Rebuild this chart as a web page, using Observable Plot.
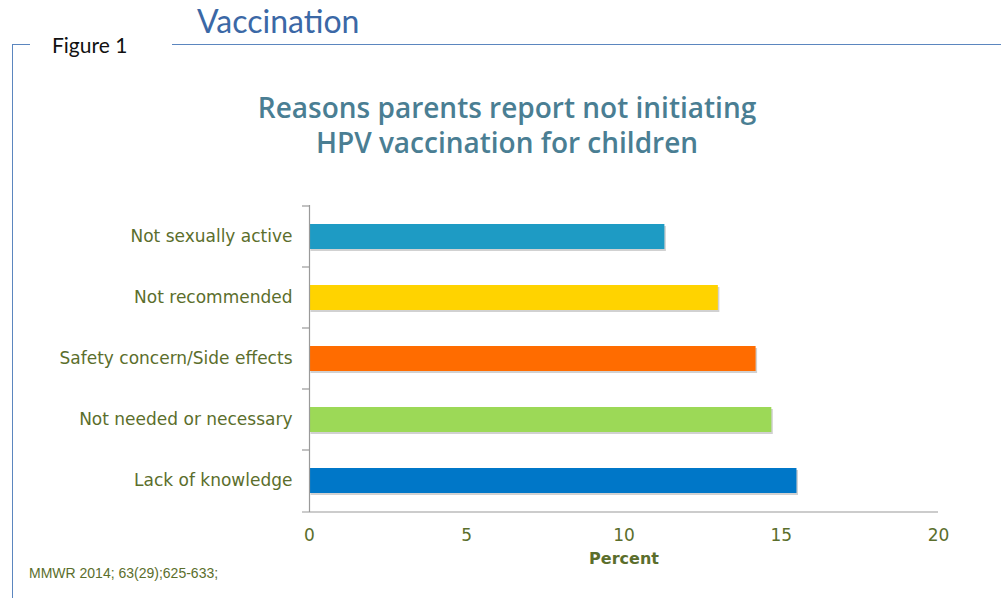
<!DOCTYPE html>
<html>
<head>
<meta charset="utf-8">
<script src="https://cdn.jsdelivr.net/npm/d3@7"></script>
<script src="https://cdn.jsdelivr.net/npm/@observablehq/plot@0.6"></script>
<style>
  html, body { margin: 0; padding: 0; background: #fff; }
  #page { position: relative; width: 1001px; height: 598px; overflow: hidden; background: #fff; }
  .abs { position: absolute; white-space: nowrap; }
  #vacc { left: 197px; top: 1px; font-family: Lato, sans-serif; font-size: 32px; color: #3b68a6; }
  #fig { left: 52px; top: 32px; font-family: Lato, sans-serif; font-size: 21px; color: #111; }
  #hline { left: 172px; top: 44px; width: 829px; height: 0; border-top: 1.5px solid #5b86bf; }
  #lshort { left: 12px; top: 44px; width: 18px; height: 0; border-top: 1.5px solid #5b86bf; }
  #vline { left: 12px; top: 44px; width: 0; height: 560px; border-left: 1.5px solid #5b86bf; }
  #title { left: 0; width: 1014px; top: 90px; text-align: center; font-family: "Open Sans", sans-serif; font-weight: 600; font-size: 28px; line-height: 35px; color: #4a7e93; }
  #cap { left: 29px; top: 565px; font-family: "Liberation Sans", Arial, sans-serif; font-size: 14px; color: #5b6e2c; }
  #chart { left: 0; top: 180px; }
</style>
</head>
<body>
<div id="page">
  <div class="abs" id="vacc">Vaccination</div>
  <div class="abs" id="fig">Figure 1</div>
  <div class="abs" id="hline"></div>
  <div class="abs" id="lshort"></div>
  <div class="abs" id="vline"></div>
  <div class="abs" id="title">Reasons parents report not initiating<br>HPV vaccination for children</div>
  <div class="abs" id="chart"></div>
  <div class="abs" id="cap">MMWR 2014; 63(29);625-633;</div>
</div>
<script>
const reasons = ["Not sexually active", "Not recommended", "Safety concern/Side effects", "Not needed or necessary", "Lack of knowledge"];
const percents = [11.3, 13.0, 14.2, 14.7, 15.5];
const barColors = ["#1e9bc4", "#ffd300", "#ff6c00", "#9cd957", "#0077c8"];
const xTicks = [0, 5, 10, 15, 20];
const xLabel = "Percent";

const data = reasons.map((r, i) => ({reason: r, value: percents[i]}));
const olive = "#5b6e2c";
const axisGray = "#9a9a9a";

function boundaryTicks(index, scales, values, dimensions) {
  const y = scales.y, x = scales.x;
  const step = y(reasons[1]) - y(reasons[0]);
  const bw = y.bandwidth ? y.bandwidth() : step * 0.41;
  const off = (step - bw) / 2;
  const g = d3.create("svg:g").attr("stroke", axisGray).attr("stroke-width", 1.2);
  const x0 = x(0);
  reasons.forEach(r => {
    const yy = y(r) - off;
    g.append("line").attr("x1", x0 - 7).attr("x2", x0).attr("y1", yy).attr("y2", yy);
  });
  const yb = dimensions.height - dimensions.marginBottom;
  g.append("line").attr("x1", x0 - 7).attr("x2", x(xTicks[xTicks.length - 1])).attr("y1", yb).attr("y2", yb);
  return g.node();
}

const chart = Plot.plot({
  width: 1001,
  height: 392,
  marginLeft: 309,
  marginRight: 63,
  marginTop: 25,
  marginBottom: 60,
  style: {fontFamily: "'DejaVu Sans', sans-serif", background: "transparent", overflow: "visible"},
  x: {domain: [0, 20], ticks: xTicks, tickSize: 0},
  y: {domain: reasons, paddingInner: 0.59, paddingOuter: 0.295},
  color: {domain: reasons, range: barColors},
  marks: [
    Plot.barX(data, {y: "reason", x: "value", fill: "#000", fillOpacity: 0.18, dx: 1.5, dy: 2}),
    Plot.barX(data, {y: "reason", x: "value", fill: "reason"}),
    Plot.ruleX([0], {stroke: axisGray, strokeWidth: 1.2}),
    boundaryTicks,
    Plot.axisY({tickSize: 0, tickPadding: 17, fontSize: 17, fill: olive, label: null}),
    Plot.axisX({ticks: xTicks, tickSize: 0, tickPadding: 16, fontSize: 17, fill: olive, label: null}),
    Plot.text([xLabel], {frameAnchor: "bottom", dy: 51, text: d => d, fontSize: 16, fontWeight: "bold", fill: olive})
  ]
});
document.getElementById("chart").appendChild(chart);
</script>
</body>
</html>
